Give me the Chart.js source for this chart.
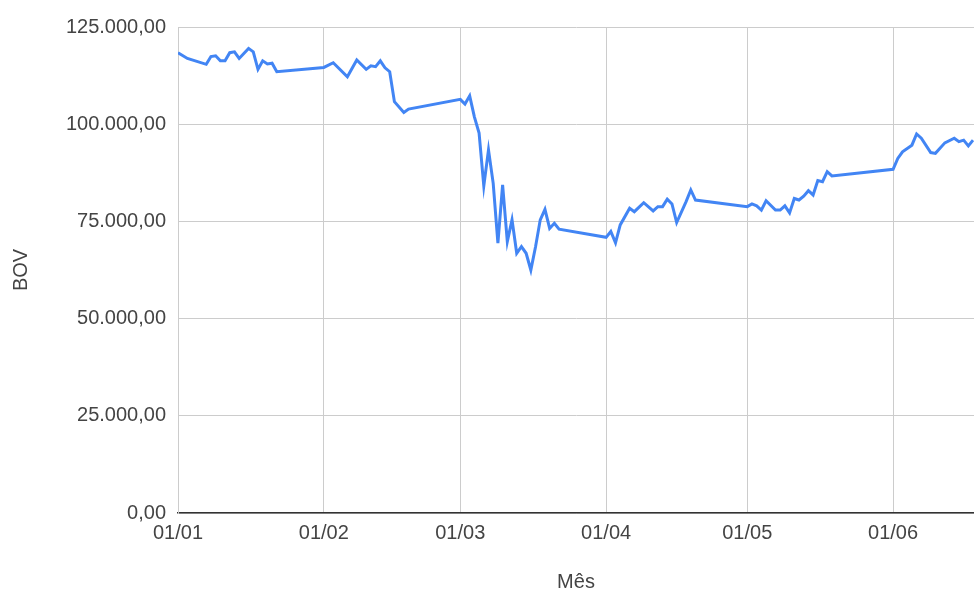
<!DOCTYPE html>
<html lang="pt-BR">
<head>
<meta charset="utf-8">
<title>BOV por mês</title>
<script src="https://cdn.jsdelivr.net/npm/chart.js@4/dist/chart.umd.min.js"></script>
<style>
  html, body { margin: 0; padding: 0; background: #ffffff; }
  canvas { display: block; }
</style>
</head>
<body>
<canvas id="chart" width="974" height="592"></canvas>
<script>
// Fechamentos do índice (dd/mm, 2020)
const dates = [
  '01/01','03/01','07/01','08/01','09/01','10/01','11/01','12/01','13/01','14/01',
  '16/01','17/01','18/01','19/01','20/01','21/01','22/01',
  '01/02','03/02','06/02','08/02','10/02','11/02','12/02','13/02','14/02','15/02',
  '16/02','18/02','19/02',
  '01/03','02/03','03/03','04/03','05/03','06/03','07/03','08/03','09/03','10/03',
  '11/03','12/03','13/03','14/03','15/03','16/03','17/03','18/03','19/03','20/03',
  '21/03','22/03',
  '01/04','02/04','03/04','04/04','06/04','07/04','09/04','11/04','12/04','13/04',
  '14/04','15/04','16/04','18/04','19/04','20/04',
  '01/05','02/05','03/05','04/05','05/05','07/05','08/05','09/05','10/05','11/05',
  '12/05','13/05','14/05','15/05','16/05','17/05','18/05','19/05',
  '01/06','02/06','03/06','05/06','06/06','07/06','09/06','10/06','12/06','14/06',
  '15/06','16/06','17/06','18/06'
];
const bov = [
  118400,116900,115400,117400,117600,116300,116300,118400,118600,116900,
  119500,118600,114100,116300,115500,115700,113500,
  114600,115800,112200,116500,114100,115000,114800,116300,114500,113500,
  105800,103000,103900,
  106400,105200,107300,101900,97700,84100,93400,84800,69400,84400,
  69800,75400,66800,68500,66800,62500,68500,75400,78100,73200,
  74500,73000,
  70900,72400,69500,74100,78400,77500,79800,77700,78800,78800,
  80700,79500,74700,80100,83100,80500,
  78800,79500,79000,77900,80300,77900,77900,79000,77200,80900,
  80500,81500,82900,81800,85500,85200,87800,86700,
  88400,91200,92900,94600,97500,96400,92700,92500,95200,96400,
  95500,95900,94400,95900
];
const monthTicks = ['01/01','01/02','01/03','01/04','01/05','01/06'];
const lastDay = '18/06';

// Dia do ano (0 = 01/01) para datas dd/mm de 2020
const monthStart = [0, 31, 60, 91, 121, 152, 182];
function dayOfYear(s) {
  const [d, m] = s.split('/').map(Number);
  return monthStart[m - 1] + d - 1;
}
const tickDays = monthTicks.map(dayOfYear);
const tickLabelByDay = {};
monthTicks.forEach((t, i) => { tickLabelByDay[tickDays[i]] = t; });

const points = dates.map((d, i) => ({ x: dayOfYear(d), y: bov[i] }));

function brNumber(v) {
  const parts = Math.round(v).toString().replace(/\B(?=(\d{3})+(?!\d))/g, '.');
  return parts + ',00';
}

const font = { family: "'Liberation Sans', Arial, sans-serif", size: 20 };
const textColor = '#444444';
const gridColor = '#cccccc';

new Chart(document.getElementById('chart'), {
  type: 'line',
  data: {
    datasets: [{
      label: 'BOV',
      data: points,
      borderColor: '#4285f4',
      backgroundColor: '#4285f4',
      borderWidth: 3,
      pointRadius: 0,
      tension: 0,
      fill: false
    }]
  },
  options: {
    responsive: false,
    animation: false,
    layout: { padding: { top: 27, right: 0, bottom: 0, left: 0 } },
    plugins: {
      legend: { display: false },
      tooltip: { enabled: false }
    },
    scales: {
      x: {
        type: 'linear',
        min: 0,
        max: dayOfYear(lastDay) + 0.2,
        afterBuildTicks(scale) {
          scale.ticks = tickDays.map(v => ({ value: v }));
        },
        afterFit(scale) { scale.height = 79; },
        ticks: {
          autoSkip: false,
          maxRotation: 0,
          padding: 8,
          color: textColor,
          font: font,
          callback: v => tickLabelByDay[v] || ''
        },
        grid: { color: gridColor, lineWidth: 1, drawTicks: false },
        border: { color: '#333333', width: 1.5 },
        title: {
          display: true,
          text: 'Mês',
          color: textColor,
          font: Object.assign({}, font, { lineHeight: 1 }),
          padding: { top: 0, bottom: 0 }
        }
      },
      y: {
        min: 0,
        max: 125000,
        afterFit(scale) { scale.width = 178; },
        ticks: {
          stepSize: 25000,
          padding: 12,
          color: textColor,
          font: font,
          callback: v => brNumber(v)
        },
        grid: { color: gridColor, lineWidth: 1, drawTicks: false },
        border: { color: gridColor, width: 1 },
        title: {
          display: true,
          text: 'BOV',
          color: textColor,
          font: Object.assign({}, font, { lineHeight: 1 }),
          padding: { top: 11, bottom: 0 }
        }
      }
    }
  }
});
</script>
</body>
</html>
